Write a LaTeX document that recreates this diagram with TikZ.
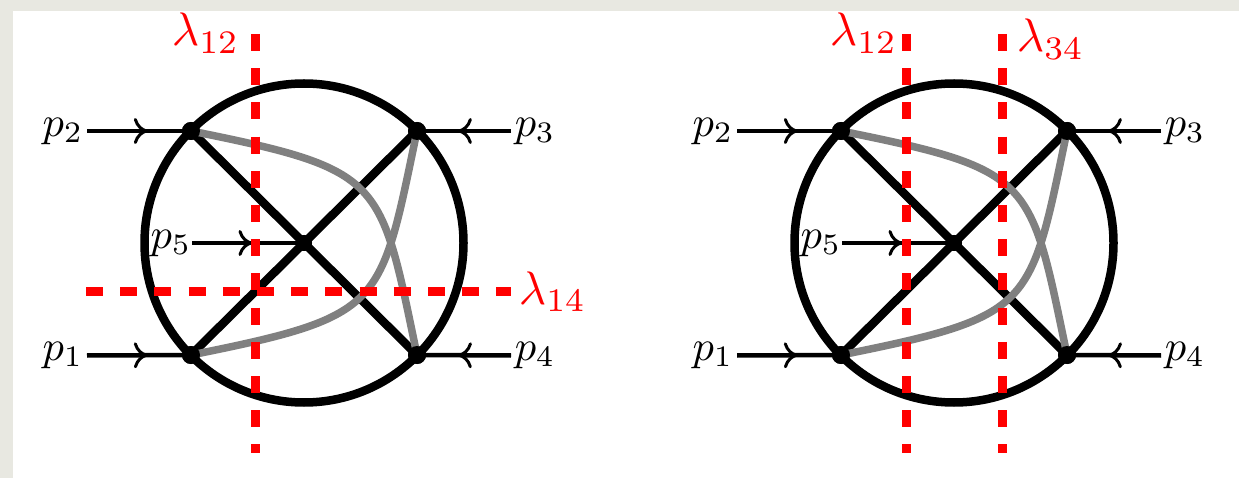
\documentclass[tikz,border=0pt]{standalone}
\usetikzlibrary{arrows.meta,decorations.markings}
\definecolor{bgpaper}{HTML}{E8E8E1}
\definecolor{graycurve}{HTML}{808080}
\tikzset{
  heavy/.style={line width=8.5pt,black},
  grayline/.style={line width=7.5pt,graycurve},
  vertexdot/.style={circle,fill=black,inner sep=0pt,minimum size=18pt},
  centerdot/.style={circle,fill=black,inner sep=0pt,minimum size=16pt},
  cutline/.style={line width=9pt,red,dash pattern=on 17pt off 17.2pt},
  plabel/.style={inner sep=0.7pt,scale=4.25,transform shape},
  cutlabel/.style={inner sep=0pt,red,scale=4.7,transform shape},
  momentum/.style={line width=4.5pt,black,postaction={decorate},
    decoration={markings,mark=at position #1 with {\arrow[line width=3pt]{Computer Modern Rightarrow[length=14pt,width=26pt]}}}}
}
\begin{document}
\begin{tikzpicture}[x=1pt,y=-1pt]
\useasboundingbox (0,0) rectangle (1239,478);
\fill[bgpaper] (0,0) rectangle (1239,478);
\fill[white] (13,11) rectangle (1239,478);
\foreach \s/\d in {a/0,b/650}{
  \begin{scope}[xshift=\d pt]
    \node[vertexdot] (\s v1) at (191,355) {};
    \node[vertexdot] (\s v2) at (191,131) {};
    \node[vertexdot] (\s v3) at (417,131) {};
    \node[vertexdot] (\s v4) at (417,355) {};
    \node[centerdot] (\s c) at (304,243) {};
    \draw[heavy] (\s c.center) circle[radius=159.5pt];
    \node[plabel,anchor=east] (\s p1) at (87,355.5) {$p_1$};
    \node[plabel,anchor=east] (\s p2) at (87,131) {$p_2$};
    \node[plabel,anchor=west] (\s p3) at (511,131) {$p_3$};
    \node[plabel,anchor=west] (\s p4) at (511,355.5) {$p_4$};
    \node[plabel,inner sep=0pt,anchor=east] (\s p5) at (192,243) {$p_5$};
    \draw[heavy] (\s v1.center) -- (\s v3.center);
    \draw[heavy] (\s v2.center) -- (\s v4.center);
    \draw[momentum=0.585] (\s p1.east) -- (\s v1.center);
    \draw[momentum=0.585] (\s p2.east) -- (\s v2.center);
    \draw[momentum=0.565] (\s p3.west) -- (\s v3.center);
    \draw[momentum=0.565] (\s p4.west) -- (\s v4.center);
    \draw[momentum=0.54] (\s p5.east) -- (\s c.center);
    \draw[grayline] (\s v2.center) .. controls +(194,39) and +(-37,-177) .. (\s v4.center);
    \draw[grayline] (\s v1.center) .. controls +(194,-39) and +(-37,177) .. (\s v3.center);
    \node[vertexdot] at (\s v1) {};
    \node[vertexdot] at (\s v2) {};
    \node[vertexdot] at (\s v3) {};
    \node[vertexdot] at (\s v4) {};
    \node[centerdot] at (\s c) {};
  \end{scope}
}
\coordinate (t1) at (255.5,34);
\coordinate (b1) at (255.5,452.5);
\coordinate (l1) at (86,291.7);
\coordinate (r1) at (511,291.7);
\coordinate (t2) at (906.5,34);
\coordinate (b2) at (906.5,452.5);
\coordinate (t3) at (1002.6,34);
\coordinate (b3) at (1002.6,452.5);
\draw[cutline] (t1) -- (b1);
\draw[cutline] (l1) -- (r1);
\draw[cutline] (t2) -- (b2);
\draw[cutline] (t3) -- (b3);
\node[cutlabel,anchor=base west] (la) at (171,46) {$\lambda_{12}$};
\node[cutlabel,anchor=base west] (lb) at (518,304) {$\lambda_{14}$};
\node[cutlabel,anchor=base west] (lc) at (829,46) {$\lambda_{12}$};
\node[cutlabel,anchor=base west] (ld) at (1016,52) {$\lambda_{34}$};
\end{tikzpicture}
\end{document}
